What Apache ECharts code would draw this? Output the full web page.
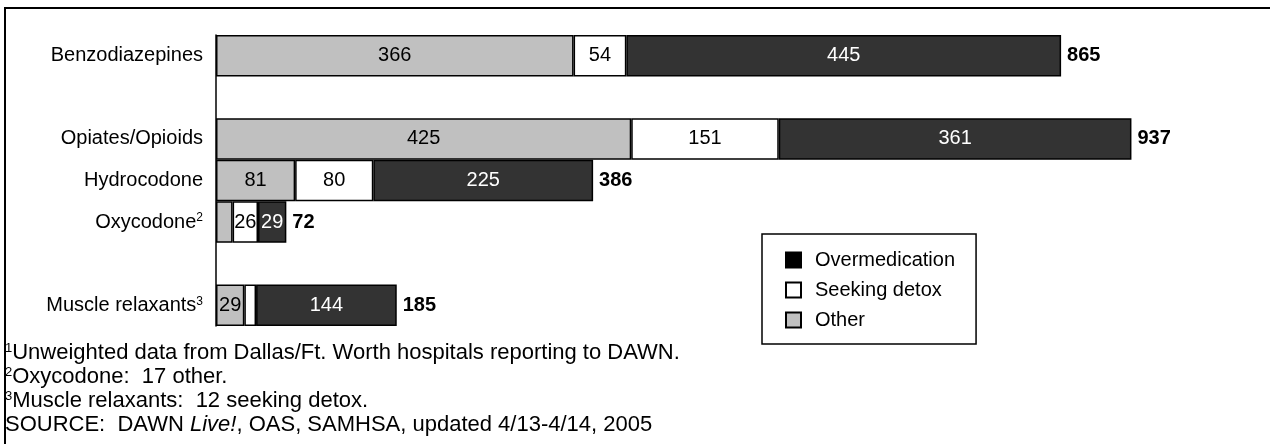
<!DOCTYPE html>
<html>
<head>
<meta charset="utf-8">
<script src="https://cdn.jsdelivr.net/npm/echarts@6/dist/echarts.min.js"></script>
<style>
  html, body { margin: 0; padding: 0; background: #fff; }
  #drug-chart { width: 1270px; height: 444px; }
</style>
</head>
<body>
<div id="drug-chart"></div>
<script>
var font = "'Liberation Sans', Arial, sans-serif";

// rows of the chart, blank rows are spacers
var categories = ['Benzodiazepines', ' ', 'Opiates/Opioids', 'Hydrocodone', 'Oxycodone', '  ', 'Muscle relaxants'];
var noteMarks = ['', '', '', '', '2', '', '3'];

var otherVals = [366, null, 425, 81, 17, null, 29];
var detoxVals = [54, null, 151, 80, 26, null, 12];
var overVals = [445, null, 361, 225, 29, null, 144];
var totals = [865, null, 937, 386, 72, null, 185];

// segments too small for a number in the original
var hiddenLabels = {other: [4], detox: [6]};

var footnotes = [
    '{s|1}Unweighted data from Dallas/Ft. Worth hospitals reporting to DAWN.',
    '{s|2}Oxycodone:  17 other.',
    '{s|3}Muscle relaxants:  12 seeking detox.',
    'SOURCE:  DAWN {i|Live!}, OAS, SAMHSA, updated 4/13-4/14, 2005'
];

var chart = echarts.init(document.getElementById('drug-chart'));

function segLabel(color, hidden) {
    return {
        show: true,
        position: 'inside',
        color: color,
        fontFamily: font,
        fontSize: 20,
        formatter: function (p) {
            if (p.value == null || hidden.indexOf(p.dataIndex) >= 0) return '';
            return p.value;
        }
    };
}

var noteGraphics = footnotes.map(function (t, i) {
    return {
        type: 'text',
        left: 5,
        top: 342 + i * 24,
        style: {
            text: t,
            fill: '#000',
            font: '22px ' + font,
            rich: {
                s: {fontSize: 13, fontFamily: font, verticalAlign: 'top', lineHeight: 13, fill: '#000'},
                i: {fontSize: 22, fontFamily: font, fontStyle: 'italic', fill: '#000'}
            }
        }
    };
});

var option = {
    animation: false,
    textStyle: {fontFamily: font},
    grid: {left: 216, right: 77, top: 35, bottom: 118},
    legend: {
        data: [
            {name: 'Overmedication', itemStyle: {color: '#000'}},
            {name: 'Seeking detox'},
            {name: 'Other'}
        ],
        orient: 'vertical',
        left: 762,
        top: 234,
        padding: [16, 21, 14, 23],
        itemGap: 10,
        itemWidth: 15,
        itemHeight: 15,
        icon: 'rect',
        borderColor: '#000',
        borderWidth: 1.5,
        selectedMode: false,
        textStyle: {fontSize: 20, color: '#000', fontFamily: font, padding: [0, 0, 0, 9]}
    },
    xAxis: {
        type: 'value',
        min: 0,
        max: 1000,
        show: false
    },
    yAxis: {
        type: 'category',
        inverse: true,
        data: categories,
        axisTick: {show: false},
        axisLine: {lineStyle: {color: '#000', width: 1.5}},
        axisLabel: {
            color: '#000',
            fontSize: 20,
            fontFamily: font,
            margin: 13,
            formatter: function (v, idx) {
                var m = noteMarks[idx];
                return m ? v + '{s|' + m + '}' : v;
            },
            rich: {
                s: {fontSize: 12, verticalAlign: 'top', lineHeight: 12, color: '#000', fontFamily: font}
            }
        }
    },
    graphic: [
        {
            type: 'rect',
            shape: {x: 5, y: 8, width: 1400, height: 1000},
            style: {fill: 'none', stroke: '#000', lineWidth: 2},
            silent: true
        }
    ].concat(noteGraphics),
    series: [
        {
            name: 'Other',
            type: 'bar',
            stack: 'all',
            barWidth: '100%',
            itemStyle: {color: '#c0c0c0', borderColor: '#000', borderWidth: 1.5},
            label: segLabel('#000', hiddenLabels.other),
            data: otherVals
        },
        {
            name: 'Seeking detox',
            type: 'bar',
            stack: 'all',
            itemStyle: {color: '#fff', borderColor: '#000', borderWidth: 1.5},
            label: segLabel('#000', hiddenLabels.detox),
            data: detoxVals
        },
        {
            name: 'Overmedication',
            type: 'bar',
            stack: 'all',
            itemStyle: {color: '#333333', borderColor: '#000', borderWidth: 1.5},
            label: segLabel('#fff', []),
            data: overVals
        },
        {
            // zero width bar, only carries the total label
            name: 'Total',
            type: 'bar',
            stack: 'all',
            itemStyle: {color: 'transparent'},
            label: {
                show: true,
                position: 'right',
                distance: 6,
                color: '#000',
                fontWeight: 'bold',
                fontSize: 20,
                fontFamily: font,
                formatter: function (p) {
                    return totals[p.dataIndex] == null ? '' : totals[p.dataIndex];
                }
            },
            data: totals.map(function (t) { return t == null ? null : 0; })
        }
    ]
};

chart.setOption(option);
</script>
</body>
</html>
